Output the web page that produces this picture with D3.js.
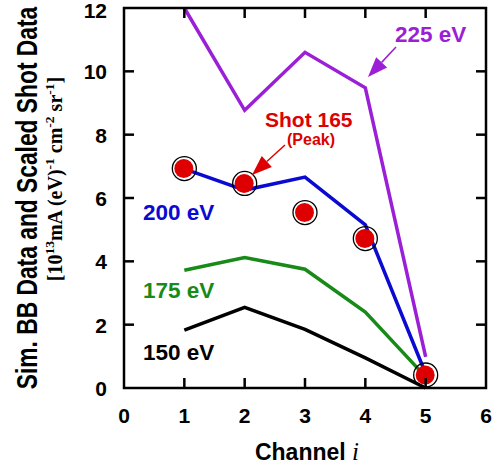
<!DOCTYPE html>
<html>
<head>
<meta charset="utf-8">
<script src="https://cdn.jsdelivr.net/npm/d3@7"></script>
<style>
  body { margin: 0; background: #fff; }
  text { font-family: Arial, "Liberation Sans", sans-serif; font-weight: bold; }
</style>
</head>
<body>
<div class="vis-container"></div>
<script>
// channel numbers and simulated BB spectra at each temperature
const CHANNELS = [1, 2, 3, 4, 5];
const BB_150 = [1.83, 2.55, 1.85, 0.95, 0.0];
const BB_175 = [3.72, 4.12, 3.75, 2.4, 0.35];
const BB_200 = [6.92, 6.25, 6.66, 5.15, 0.45];
const BB_225 = [12.0, 8.77, 10.6, 9.48, 0.98];
// scaled shot data (Shot 165, peak)
const SHOT_165 = [6.93, 6.46, 5.54, 4.72, 0.41];
const X_TICKS = [0, 1, 2, 3, 4, 5, 6];
const Y_TICKS = [0, 2, 4, 6, 8, 10, 12];

const SERIES = [
  {name: '150 eV', values: BB_150, color: '#000000', lx: 143, ly: 360},
  {name: '175 eV', values: BB_175, color: '#178a17', lx: 143, ly: 298},
  {name: '200 eV', values: BB_200, color: '#0a0ad2', lx: 143, ly: 220},
  {name: '225 eV', values: BB_225, color: '#9b1fd6', lx: 395, ly: 42}
];

buildChart();

function buildChart() {
  const width = 500;
  const height = 468;
  const svg = d3.select('.vis-container').append('svg')
    .attr('width', width)
    .attr('height', height);

  const x = d3.scaleLinear().domain([0, 6]).range([124, 486]);
  const y = d3.scaleLinear().domain([0, 12]).range([388, 8]);

  const line = d3.line()
    .x((d, i) => x(CHANNELS[i]))
    .y(d => y(d));

  // data lines
  svg.selectAll('.bb').data(SERIES)
    .enter().append('path')
      .attr('class', 'bb')
      .attr('d', d => line(d.values))
      .attr('fill', 'none')
      .attr('stroke', d => d.color)
      .attr('stroke-width', 3.5);

  svg.selectAll('.bb-label').data(SERIES)
    .enter().append('text')
      .attr('class', 'bb-label')
      .attr('x', d => d.lx)
      .attr('y', d => d.ly)
      .attr('fill', d => d.color)
      .style('font-size', '22.5px')
      .text(d => d.name);

  // shot points
  svg.selectAll('.ring').data(SHOT_165)
    .enter().append('circle')
      .attr('class', 'ring')
      .attr('cx', (d, i) => x(CHANNELS[i]))
      .attr('cy', d => y(d))
      .attr('r', 12)
      .attr('fill', 'none')
      .attr('stroke', '#000')
      .attr('stroke-width', 1.3);
  svg.selectAll('.dot').data(SHOT_165)
    .enter().append('circle')
      .attr('class', 'dot')
      .attr('cx', (d, i) => x(CHANNELS[i]) - 0.5)
      .attr('cy', d => y(d))
      .attr('r', 9.5)
      .attr('fill', '#de0000');

  // frame + ticks
  svg.append('rect')
    .attr('x', x(0))
    .attr('y', y(12))
    .attr('width', x(6) - x(0))
    .attr('height', y(0) - y(12))
    .attr('fill', 'none')
    .attr('stroke', '#000')
    .attr('stroke-width', 2.5);

  const tickLen = 10;
  const innerX = X_TICKS.slice(1, -1);
  const innerY = Y_TICKS.slice(1, -1);
  svg.selectAll('.xtick-b').data(innerX)
    .enter().append('line')
      .attr('x1', d => x(d)).attr('x2', d => x(d))
      .attr('y1', y(0)).attr('y2', y(0) - tickLen)
      .attr('stroke', '#000').attr('stroke-width', 2.5);
  svg.selectAll('.xtick-t').data(innerX)
    .enter().append('line')
      .attr('x1', d => x(d)).attr('x2', d => x(d))
      .attr('y1', y(12)).attr('y2', y(12) + tickLen)
      .attr('stroke', '#000').attr('stroke-width', 2.5);
  svg.selectAll('.ytick-l').data(innerY)
    .enter().append('line')
      .attr('x1', x(0)).attr('x2', x(0) + tickLen)
      .attr('y1', d => y(d)).attr('y2', d => y(d))
      .attr('stroke', '#000').attr('stroke-width', 2.5);
  svg.selectAll('.ytick-r').data(innerY)
    .enter().append('line')
      .attr('x1', x(6)).attr('x2', x(6) - tickLen)
      .attr('y1', d => y(d)).attr('y2', d => y(d))
      .attr('stroke', '#000').attr('stroke-width', 2.5);

  // tick labels
  svg.selectAll('.xlab').data(X_TICKS)
    .enter().append('text')
      .attr('x', d => x(d))
      .attr('y', 423)
      .attr('text-anchor', 'middle')
      .style('font-size', '21px')
      .text(d => d);
  svg.selectAll('.ylab').data(Y_TICKS)
    .enter().append('text')
      .attr('x', 107)
      .attr('y', d => Math.max(y(d) + 8, 18))
      .attr('text-anchor', 'end')
      .style('font-size', '21px')
      .text(d => d);

  // axis titles
  const xt = svg.append('text')
    .attr('x', 307)
    .attr('y', 460)
    .attr('text-anchor', 'middle')
    .style('font-size', '23px');
  xt.append('tspan').text('Channel ');
  xt.append('tspan')
    .style('font-family', '"Liberation Serif", "Times New Roman", serif')
    .style('font-style', 'italic')
    .style('font-weight', 'normal')
    .style('font-size', '25px')
    .text('i');

  // tall, narrow lettering: stretch glyph height instead of forcing length
  svg.append('text')
    .attr('transform', 'translate(36.5, 198) rotate(-90) scale(1, 1.27)')
    .attr('text-anchor', 'middle')
    .style('font-size', '22.8px')
    .text('Sim. BB Data and Scaled Shot Data');

  const yt2 = svg.append('text')
    .attr('transform', 'translate(62, 179) rotate(-90)')
    .attr('text-anchor', 'middle')
    .style('font-family', '"Liberation Serif", "Times New Roman", serif')
    .style('font-size', '20px');
  const parts = [
    ['[10', 0], ['13', 1], ['mA (eV)', 0], ['-1', 1], [' cm', 0], ['-2', 1], [' sr', 0], ['-1', 1], [']', 0]
  ];
  let raised = false;
  parts.forEach(p => {
    const sup = p[1] === 1;
    let dy = null;
    if (sup && !raised) dy = -8;
    if (!sup && raised) dy = 8;
    raised = sup;
    yt2.append('tspan')
      .attr('dy', dy)
      .style('font-size', sup ? '13.5px' : null)
      .text(p[0]);
  });

  // annotations
  svg.append('text')
    .attr('x', 265).attr('y', 127)
    .attr('fill', '#de0000')
    .style('font-size', '21px')
    .text('Shot 165');
  svg.append('text')
    .attr('x', 287).attr('y', 145)
    .attr('fill', '#de0000')
    .style('font-size', '16px')
    .text('(Peak)');

  drawArrow(svg, [285, 145], [252, 175], '#de0000');
  drawArrow(svg, [396, 47], [368, 77], '#9b1fd6');
}

function drawArrow(svg, from, to, color) {
  const dx = to[0] - from[0];
  const dy = to[1] - from[1];
  const len = Math.sqrt(dx * dx + dy * dy);
  const ux = dx / len;
  const uy = dy / len;
  const headLen = 20;
  const headW = 7.5;
  const bx = to[0] - ux * headLen;
  const by = to[1] - uy * headLen;
  svg.append('line')
    .attr('x1', from[0]).attr('y1', from[1])
    .attr('x2', bx).attr('y2', by)
    .attr('stroke', color)
    .attr('stroke-width', 1.5);
  svg.append('path')
    .attr('d', `M${to[0]},${to[1]}L${bx - uy * headW},${by + ux * headW}L${bx + uy * headW},${by - ux * headW}Z`)
    .attr('fill', color);
}
</script>
</body>
</html>
